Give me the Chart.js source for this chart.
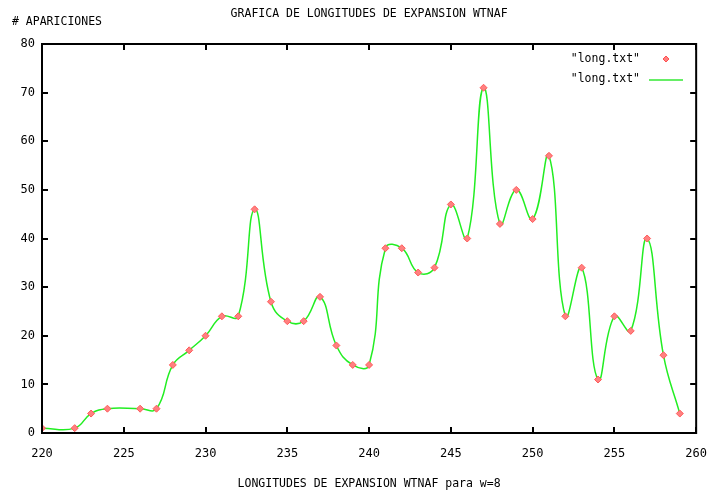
<!DOCTYPE html>
<html lang="es">
<head>
  <meta charset="UTF-8">
  <title>Grafica de longitudes de expansion WTNAF</title>
  <script src="https://cdn.jsdelivr.net/npm/chart.js"></script>
  <style>
    body { margin: 0; background: #fff; }
    #wrap { width: 707px; height: 493px; }
  </style>
</head>
<body>
  <div id="wrap">
    <canvas id="grafica" width="707" height="493"></canvas>
  </div>

  <script>
    // longitud de expansion (eje x) y numero de apariciones (eje y)
    const longitudes = [220, 222, 223, 224, 226, 227, 228, 229, 230, 231, 232, 233, 234, 235, 236, 237, 238, 239,
                        240, 241, 242, 243, 244, 245, 246, 247, 248, 249, 250, 251, 252, 253, 254, 255, 256, 257, 258, 259];
    const apariciones = [1, 1, 4, 5, 5, 5, 14, 17, 20, 24, 24, 46, 27, 23, 23, 28, 18, 14,
                         14, 38, 38, 33, 34, 47, 40, 71, 43, 50, 44, 57, 24, 34, 11, 24, 21, 40, 16, 4];
    const xTicks = [220, 225, 230, 235, 240, 245, 250, 255, 260];
    const yTicks = [0, 10, 20, 30, 40, 50, 60, 70, 80];

    const titulo = 'GRAFICA DE LONGITUDES DE EXPANSION WTNAF';
    const tituloY = '# APARICIONES';
    const tituloX = 'LONGITUDES DE EXPANSION WTNAF para w=8';

    const fuente = '"DejaVu Sans Mono", monospace';
    const puntos = longitudes.map((x, i) => ({ x: x, y: apariciones[i] }));

    // caja negra, ticks hacia dentro, titulos y leyenda estilo gnuplot
    const estiloGnuplot = {
      id: 'estiloGnuplot',
      afterDraw(chart) {
        const ctx = chart.ctx;
        const a = chart.chartArea;
        const sx = chart.scales.x, sy = chart.scales.y;
        ctx.save();
        ctx.strokeStyle = '#000';
        ctx.lineWidth = 2;
        ctx.strokeRect(a.left, a.top, a.right - a.left, a.bottom - a.top);
        ctx.beginPath();
        xTicks.forEach(v => {
          const px = Math.round(sx.getPixelForValue(v));
          ctx.moveTo(px, a.bottom); ctx.lineTo(px, a.bottom - 6);
          ctx.moveTo(px, a.top); ctx.lineTo(px, a.top + 6);
        });
        yTicks.forEach(v => {
          const py = Math.round(sy.getPixelForValue(v));
          ctx.moveTo(a.left, py); ctx.lineTo(a.left + 6, py);
          ctx.moveTo(a.right, py); ctx.lineTo(a.right - 6, py);
        });
        ctx.stroke();

        ctx.fillStyle = '#000';
        ctx.font = '11.5px ' + fuente;
        ctx.textBaseline = 'middle';
        ctx.textAlign = 'center';
        ctx.fillText(titulo, (a.left + a.right) / 2, 14);
        ctx.textAlign = 'left';
        ctx.fillText(tituloY, 12, 22);

        // leyenda
        const ds = chart.data.datasets;
        ctx.textAlign = 'right';
        ctx.fillText(ds[0].label, 640, 59);
        ctx.fillText(ds[1].label, 640, 79);
        ctx.fillStyle = '#ff8080';
        ctx.strokeStyle = '#ff5050';
        ctx.lineWidth = 1;
        ctx.beginPath();
        ctx.moveTo(666, 56); ctx.lineTo(669, 59); ctx.lineTo(666, 62); ctx.lineTo(663, 59);
        ctx.closePath();
        ctx.fill(); ctx.stroke();
        ctx.strokeStyle = '#66ee66';
        ctx.lineWidth = 2;
        ctx.beginPath();
        ctx.moveTo(649, 80); ctx.lineTo(683, 80);
        ctx.stroke();
        ctx.restore();
      }
    };

    const ctx = document.getElementById('grafica').getContext('2d');
    const grafica = new Chart(ctx, {
      type: 'scatter',
      data: {
        datasets: [
          {
            label: '"long.txt"',
            data: puntos,
            showLine: false,
            pointStyle: 'rectRot',
            pointRadius: 3.5,
            backgroundColor: '#ff8080',
            borderColor: '#ff5a5a',
            borderWidth: 1,
            order: 1
          },
          {
            label: '"long.txt"',
            data: puntos,
            showLine: true,
            tension: 0.45,
            pointRadius: 0,
            borderColor: '#22ee22',
            borderWidth: 1.5,
            fill: false,
            order: 2
          }
        ]
      },
      options: {
        responsive: false,
        animation: false,
        events: [],
        layout: { padding: { top: 44, right: 0, left: 0, bottom: 0 } },
        plugins: {
          legend: { display: false },
          title: { display: false },
          tooltip: { enabled: false }
        },
        scales: {
          x: {
            type: 'linear',
            min: 220,
            max: 260,
            afterBuildTicks: s => { s.ticks = xTicks.map(v => ({ value: v })); },
            afterFit: s => { s.height = 60; },
            grid: { display: false, drawTicks: true, tickLength: 14 },
            border: { display: false },
            ticks: {
              color: '#000',
              font: { family: fuente, size: 12 },
              padding: 0,
              maxRotation: 0
            },
            title: {
              display: true,
              text: tituloX,
              color: '#000',
              font: { family: fuente, size: 11.5 },
              padding: { top: 6, bottom: 2 }
            }
          },
          y: {
            min: 0,
            max: 80,
            afterBuildTicks: s => { s.ticks = yTicks.map(v => ({ value: v })); },
            afterFit: s => { s.width = 42; },
            grid: { display: false, drawTicks: false },
            border: { display: false },
            ticks: {
              color: '#000',
              font: { family: fuente, size: 12 },
              padding: 7
            }
          }
        }
      },
      plugins: [estiloGnuplot]
    });
  </script>
</body>
</html>
